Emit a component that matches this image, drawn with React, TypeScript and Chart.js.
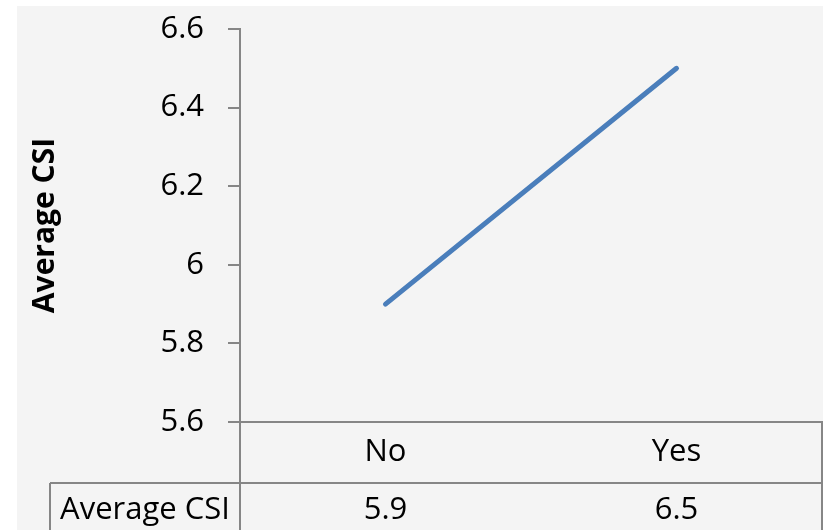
import { useEffect, useRef } from "react";
import { Chart, registerables } from "chart.js";

Chart.register(...registerables);

const categories = ["No", "Yes"];
const averageCSI = [5.9, 6.5];
const seriesName = "Average CSI";
const yTickLabels = ["5.6", "5.8", "6", "6.2", "6.4", "6.6"];
const yMin = 5.6;
const yMax = 6.6;
const yStep = 0.2;

const FONT = "'Open Sans', sans-serif";
const GRAY = "#868686";
const BG = "#f4f4f4";

export default function App() {
  const ref = useRef<HTMLCanvasElement>(null);

  useEffect(() => {
    document.body.style.margin = "0";
    const canvas = ref.current;
    if (!canvas) return;

    const tablePlugin = {
      id: "dataTable",
      beforeDraw(chart: any) {
        const { ctx } = chart;
        ctx.save();
        ctx.fillStyle = BG;
        ctx.fillRect(0, 0, chart.width, chart.height);
        ctx.restore();
      },
      afterDraw(chart: any) {
        const { ctx, chartArea, scales } = chart;
        const x = scales.x;
        const H = chart.height;
        const rowSep = chartArea.bottom + 61;
        const leftBorder = 33;
        ctx.save();
        ctx.strokeStyle = GRAY;
        ctx.lineWidth = 2;
        ctx.beginPath();
        ctx.moveTo(chartArea.left, chartArea.bottom);
        ctx.lineTo(chartArea.left, H);
        ctx.moveTo(chartArea.right, chartArea.bottom - 1);
        ctx.lineTo(chartArea.right, H);
        ctx.moveTo(leftBorder, rowSep);
        ctx.lineTo(chartArea.right, rowSep);
        ctx.moveTo(leftBorder, rowSep);
        ctx.lineTo(leftBorder, H);
        ctx.stroke();

        ctx.fillStyle = "#000";
        ctx.textAlign = "center";
        ctx.textBaseline = "middle";
        ctx.font = `31px ${FONT}`;
        categories.forEach((c, i) => {
          const px = x.getPixelForValue(i);
          ctx.fillText(c, px, chartArea.bottom + 30);
          ctx.fillText(String(averageCSI[i]), px, rowSep + 27);
        });
        ctx.fillText(seriesName, (leftBorder + chartArea.left) / 2, rowSep + 27);

        ctx.font = `bold 30px ${FONT}`;
        ctx.translate(28, (chartArea.top + chartArea.bottom) / 2);
        ctx.rotate(-Math.PI / 2);
        ctx.fillText(seriesName, 0, 0);
        ctx.restore();
      },
    };

    const chart = new Chart(canvas, {
      type: "line",
      data: {
        labels: categories,
        datasets: [
          {
            label: seriesName,
            data: averageCSI,
            borderColor: "#4a7ebb",
            borderWidth: 5,
            borderCapStyle: "round",
            pointRadius: 0,
            pointHoverRadius: 0,
            tension: 0,
            fill: false,
            clip: false as any,
          },
        ],
      },
      options: {
        responsive: false,
        animation: false,
        devicePixelRatio: 1,
        layout: { padding: { top: 23, right: 1, left: 0, bottom: 0 } },
        plugins: {
          legend: { display: false },
          tooltip: { enabled: false },
          title: { display: false },
        },
        scales: {
          x: {
            type: "category",
            offset: true,
            grid: { display: false },
            border: { display: true, color: GRAY, width: 2 },
            ticks: { display: false },
            afterFit: (s: any) => {
              s.height = 108;
              s.paddingLeft = 0;
              s.paddingRight = 0;
            },
          },
          y: {
            min: yMin,
            max: yMax,
            ticks: {
              stepSize: yStep,
              padding: 24,
              color: "#000",
              font: { family: FONT, size: 31 },
              callback: (v: any) =>
                yTickLabels[Math.round((Number(v) - yMin) / yStep)] ?? "",
            },
            grid: {
              display: true,
              drawOnChartArea: false,
              drawTicks: true,
              tickLength: 12,
              color: GRAY,
              lineWidth: 2,
            },
            border: { display: true, color: GRAY, width: 2 },
            afterFit: (s: any) => {
              s.width = 223;
              s.paddingTop = 0;
              s.paddingBottom = 0;
            },
          },
        },
      },
      plugins: [tablePlugin],
    });

    return () => chart.destroy();
  }, []);

  return (
    <div
      style={{
        position: "relative",
        width: 823,
        height: 530,
        overflow: "hidden",
        background: "#fff",
      }}
    >
      <canvas
        ref={ref}
        width={806}
        height={524}
        style={{ position: "absolute", left: 17, top: 6, width: 806, height: 524 }}
      />
    </div>
  );
}
